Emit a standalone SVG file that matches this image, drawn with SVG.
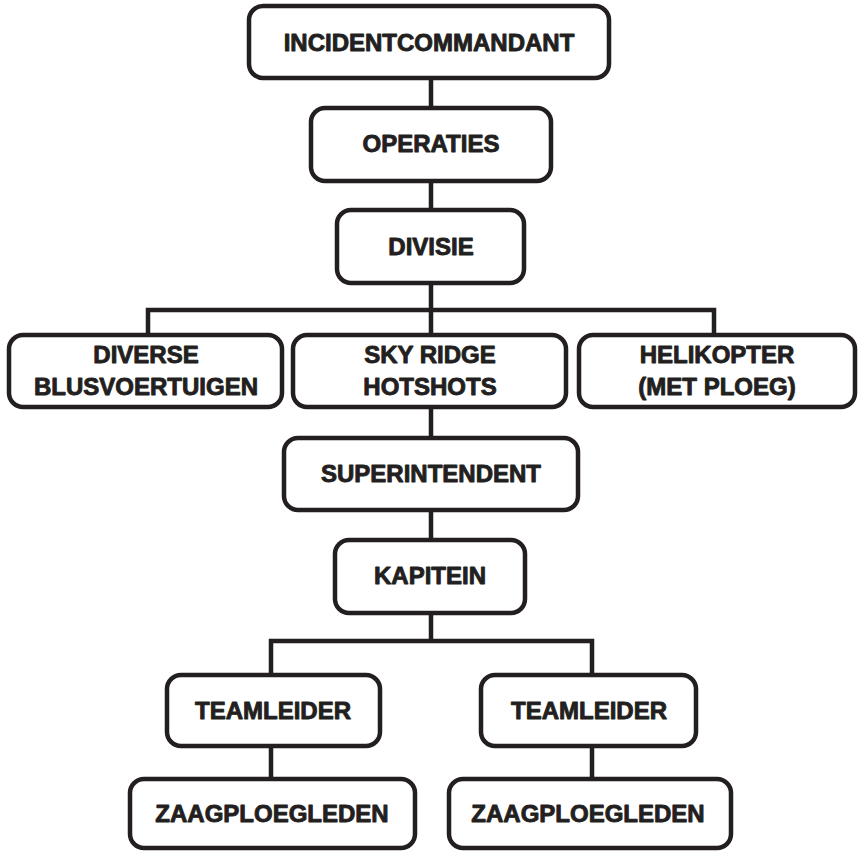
<svg xmlns="http://www.w3.org/2000/svg" width="858" height="851" viewBox="0 0 858 851">
<style>
.box{fill:#fff;stroke:#231f20;stroke-width:4.5}
.lbl{font-family:"Liberation Sans",Arial,sans-serif;font-weight:bold;font-size:24px;fill:#231f20;stroke:#231f20;stroke-width:0.9;stroke-linejoin:round;text-anchor:middle}
.con{fill:none;stroke:#231f20;stroke-width:4.5}
</style>
<rect width="858" height="851" fill="#fff"/>
<g id="connectors">
<path class="con" d="M431 80V106M431 183V208M431 285V333M148 333V310H714V333"/>
<path class="con" d="M431 409V436M431 512V538M431 615V641M271 673V641H592V673M271 748V777M592 748V777"/>
</g>
<g id="incidentcommandant"><rect class="box" x="249" y="6" width="360" height="72" rx="14"/><text class="lbl" x="429" y="51">INCIDENTCOMMANDANT</text></g>
<g id="operaties"><rect class="box" x="311" y="108" width="240" height="73" rx="14"/><text class="lbl" x="431" y="152">OPERATIES</text></g>
<g id="divisie"><rect class="box" x="337" y="210" width="187" height="73" rx="14"/><text class="lbl" x="431" y="255">DIVISIE</text></g>
<g id="diverse"><rect class="box" x="9" y="335" width="273" height="72" rx="14"/><text class="lbl" x="146" y="363">DIVERSE</text><text class="lbl" x="146" y="395">BLUSVOERTUIGEN</text></g>
<g id="skyridge"><rect class="box" x="293" y="335" width="273" height="72" rx="14"/><text class="lbl" x="430" y="363">SKY RIDGE</text><text class="lbl" x="430" y="395">HOTSHOTS</text></g>
<g id="helikopter"><rect class="box" x="579" y="335" width="276" height="72" rx="14"/><text class="lbl" x="717" y="363">HELIKOPTER</text><text class="lbl" x="717" y="395">(MET PLOEG)</text></g>
<g id="superintendent"><rect class="box" x="284" y="438" width="294" height="72" rx="14"/><text class="lbl" x="431" y="482">SUPERINTENDENT</text></g>
<g id="kapitein"><rect class="box" x="335" y="540" width="190" height="73" rx="14"/><text class="lbl" x="430" y="584">KAPITEIN</text></g>
<g id="teamleider1"><rect class="box" x="167" y="675" width="213" height="71" rx="14"/><text class="lbl" x="273" y="719">TEAMLEIDER</text></g>
<g id="teamleider2"><rect class="box" x="481" y="675" width="215" height="71" rx="14"/><text class="lbl" x="589" y="719">TEAMLEIDER</text></g>
<g id="zaagploegleden1"><rect class="box" x="130" y="779" width="285" height="69" rx="14"/><text class="lbl" x="272" y="822">ZAAGPLOEGLEDEN</text></g>
<g id="zaagploegleden2"><rect class="box" x="449" y="779" width="282" height="69" rx="14"/><text class="lbl" x="588" y="822">ZAAGPLOEGLEDEN</text></g>
</svg>
